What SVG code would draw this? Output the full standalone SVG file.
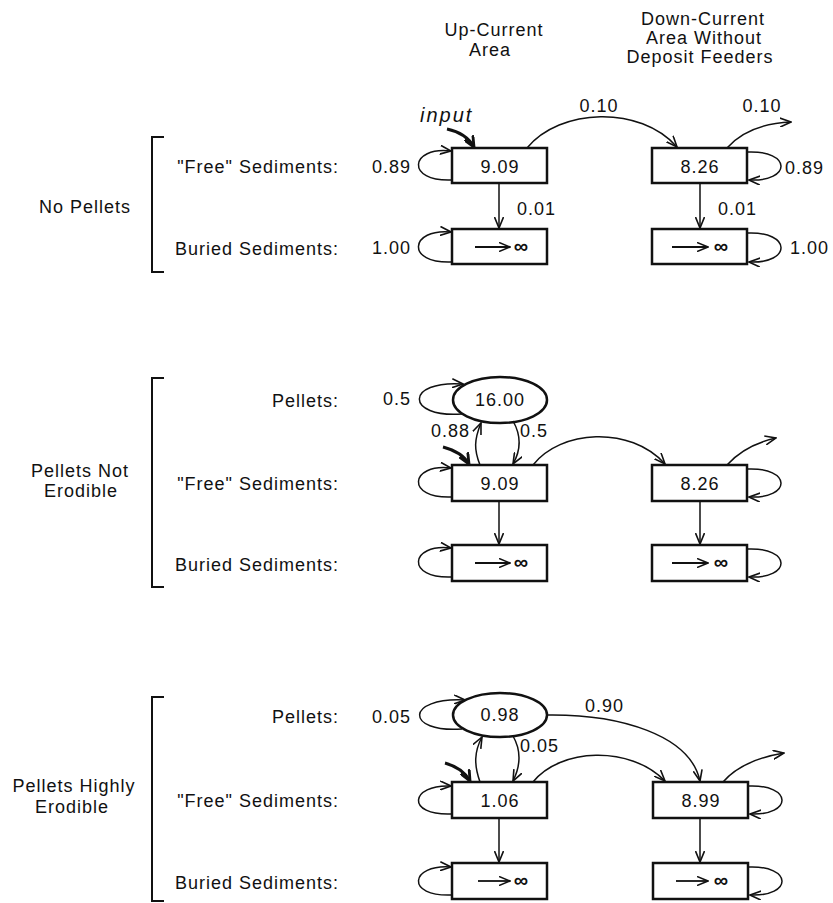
<svg xmlns="http://www.w3.org/2000/svg" width="833" height="903" viewBox="0 0 833 903">
<defs>
<style>
text{font-family:"Liberation Sans",Arial,sans-serif;font-size:18px;fill:#111;letter-spacing:1px}
.m{text-anchor:middle}
.e{text-anchor:end}
.it{font-style:italic;font-size:20px;letter-spacing:2px}
.inft{font-size:20px;font-weight:bold;letter-spacing:0}
.box{fill:#fff;stroke:#111;stroke-width:2.5}
.br{fill:none;stroke:#111;stroke-width:2}
.c{fill:none;stroke:#111;stroke-width:1.5;marker-end:url(#ah)}
.in{fill:none;stroke:#111;stroke-width:3;marker-end:url(#ahb)}
.inf{fill:none;stroke:#111;stroke-width:1.8;marker-end:url(#ah)}
</style>
<marker id="ah" viewBox="0 0 12 10" refX="11" refY="5" markerWidth="12" markerHeight="10" markerUnits="userSpaceOnUse" orient="auto">
<path d="M0,0.5 L11,5 L0,9.5" fill="none" stroke="#111" stroke-width="1.6"/>
</marker>
<marker id="ahb" viewBox="0 0 12 10" refX="10" refY="5" markerWidth="13" markerHeight="11" markerUnits="userSpaceOnUse" orient="auto">
<path d="M0,0.5 L10,5 L0,9.5" fill="none" stroke="#111" stroke-width="2.6"/>
</marker>
</defs>
<rect width="833" height="903" fill="#fff"/>

<g id="headers">
<text class="m" x="494" y="36">Up-Current</text>
<text class="m" x="490" y="56">Area</text>
<text class="m" x="703" y="25">Down-Current</text>
<text class="m" x="704" y="44">Area Without</text>
<text class="m" x="700" y="63">Deposit Feeders</text>
</g>

<g id="section-no-pellets">
<path class="br" d="M164,137 H152 V272 H164"/>
<text class="m" x="85" y="213">No Pellets</text>
<text class="e" x="339" y="173">"Free" Sediments:</text>
<text class="e" x="339" y="255">Buried Sediments:</text>
</g>

<g id="section-not-erodible">
<path class="br" d="M164,378 H152 V587 H164"/>
<text class="m" x="80" y="477">Pellets Not</text>
<text class="m" x="81" y="497">Erodible</text>
<text class="e" x="339" y="407">Pellets:</text>
<text class="e" x="339" y="490">"Free" Sediments:</text>
<text class="e" x="339" y="571">Buried Sediments:</text>
</g>

<g id="section-highly-erodible">
<path class="br" d="M164,697 H152 V901 H164"/>
<text class="m" x="74" y="792">Pellets Highly</text>
<text class="m" x="72" y="813">Erodible</text>
<text class="e" x="339" y="723">Pellets:</text>
<text class="e" x="339" y="807">"Free" Sediments:</text>
<text class="e" x="339" y="889">Buried Sediments:</text>
</g>

<!-- Section 1 nodes -->
<g id="n1-up-free"><rect class="box" x="452" y="148" width="95" height="35"/><text class="m" x="500" y="173">9.09</text></g>
<g id="n1-up-buried"><rect class="box" x="452" y="229" width="95" height="35"/><path class="inf" d="M475,247 H510"/><text class="m inft" x="521" y="253">∞</text></g>
<g id="n1-down-free"><rect class="box" x="652" y="148" width="95" height="35"/><text class="m" x="700" y="173">8.26</text></g>
<g id="n1-down-buried"><rect class="box" x="652" y="229" width="95" height="35"/><path class="inf" d="M672,247 H708"/><text class="m inft" x="721" y="253">∞</text></g>

<!-- Section 2 nodes -->
<g id="n2-pellets"><ellipse class="box" cx="500" cy="400" rx="47" ry="23"/><text class="m" x="500" y="406">16.00</text></g>
<g id="n2-up-free"><rect class="box" x="452" y="465" width="95" height="36"/><text class="m" x="500" y="490">9.09</text></g>
<g id="n2-up-buried"><rect class="box" x="452" y="545" width="95" height="36"/><path class="inf" d="M475,563 H510"/><text class="m inft" x="521" y="569">∞</text></g>
<g id="n2-down-free"><rect class="box" x="652" y="465" width="95" height="36"/><text class="m" x="700" y="490">8.26</text></g>
<g id="n2-down-buried"><rect class="box" x="652" y="545" width="95" height="36"/><path class="inf" d="M672,563 H708"/><text class="m inft" x="721" y="569">∞</text></g>

<!-- Section 3 nodes -->
<g id="n3-pellets"><ellipse class="box" cx="500" cy="715" rx="47" ry="22"/><text class="m" x="500" y="721">0.98</text></g>
<g id="n3-up-free"><rect class="box" x="452" y="782" width="95" height="36"/><text class="m" x="500" y="807">1.06</text></g>
<g id="n3-up-buried"><rect class="box" x="452" y="863" width="95" height="36"/><path class="inf" d="M478,881 H510"/><text class="m inft" x="521" y="887">∞</text></g>
<g id="n3-down-free"><rect class="box" x="653" y="782" width="95" height="36"/><text class="m" x="701" y="807">8.99</text></g>
<g id="n3-down-buried"><rect class="box" x="653" y="863" width="95" height="36"/><path class="inf" d="M676,881 H708"/><text class="m inft" x="721" y="887">∞</text></g>

<g id="connectors">
<!-- Section 1 -->
<text class="it" x="420" y="122">input</text>
<path class="in" d="M447,129 Q466,133 474,147"/>
<path class="c" d="M452,180 C405,182 410,146 451,151"/>
<text class="e" x="411" y="173">0.89</text>
<path class="c" d="M499,183 V228"/>
<text x="517" y="215">0.01</text>
<path class="c" d="M452,262 C405,264 410,228 451,232"/>
<text class="e" x="411" y="254">1.00</text>
<path class="c" d="M527,148 C560,108 640,105 677,147"/>
<text class="m" x="599" y="112">0.10</text>
<path class="c" d="M727,148 Q748,124 791,122"/>
<text class="m" x="762" y="112">0.10</text>
<path class="c" d="M747,152 C792,150 792,182 749,180"/>
<text x="785" y="174">0.89</text>
<path class="c" d="M700,183 V228"/>
<text x="718" y="215">0.01</text>
<path class="c" d="M747,233 C792,231 792,264 749,262"/>
<text x="790" y="254">1.00</text>

<!-- Section 2 -->
<path class="c" d="M462,414 C405,418 405,380 463,384"/>
<text class="e" x="411" y="405">0.5</text>
<path class="c" d="M480,465 C474,450 474,440 481,423"/>
<text class="e" x="470" y="437">0.88</text>
<path class="c" d="M513,421 C521,435 521,450 513,464"/>
<text x="520" y="437">0.5</text>
<path class="in" d="M443,447 Q462,452 469,464"/>
<path class="c" d="M452,497 C405,499 410,463 451,468"/>
<path class="c" d="M499,501 V544"/>
<path class="c" d="M452,577 C405,579 410,543 451,548"/>
<path class="c" d="M533,465 C560,430 630,425 665,464"/>
<path class="c" d="M727,465 Q745,445 776,438"/>
<path class="c" d="M747,469 C792,467 792,499 749,497"/>
<path class="c" d="M700,501 V544"/>
<path class="c" d="M747,549 C792,547 792,579 749,577"/>

<!-- Section 3 -->
<path class="c" d="M462,729 C405,733 405,697 465,700"/>
<text class="e" x="411" y="723">0.05</text>
<path class="c" d="M547,715 C620,714 690,735 700,781"/>
<text x="585" y="712">0.90</text>
<path class="c" d="M480,782 C474,765 474,752 482,737"/>
<path class="c" d="M513,736 C521,750 521,765 513,781"/>
<text x="520" y="752">0.05</text>
<path class="in" d="M445,763 Q463,768 470,781"/>
<path class="c" d="M452,814 C405,816 410,784 451,786"/>
<path class="c" d="M499,818 V862"/>
<path class="c" d="M452,895 C405,897 410,864 451,867"/>
<path class="c" d="M533,782 C560,748 630,745 665,781"/>
<path class="c" d="M723,782 Q742,760 784,753"/>
<path class="c" d="M748,786 C793,784 793,816 750,814"/>
<path class="c" d="M700,818 V862"/>
<path class="c" d="M748,867 C793,865 793,897 750,895"/>
</g>
</svg>
